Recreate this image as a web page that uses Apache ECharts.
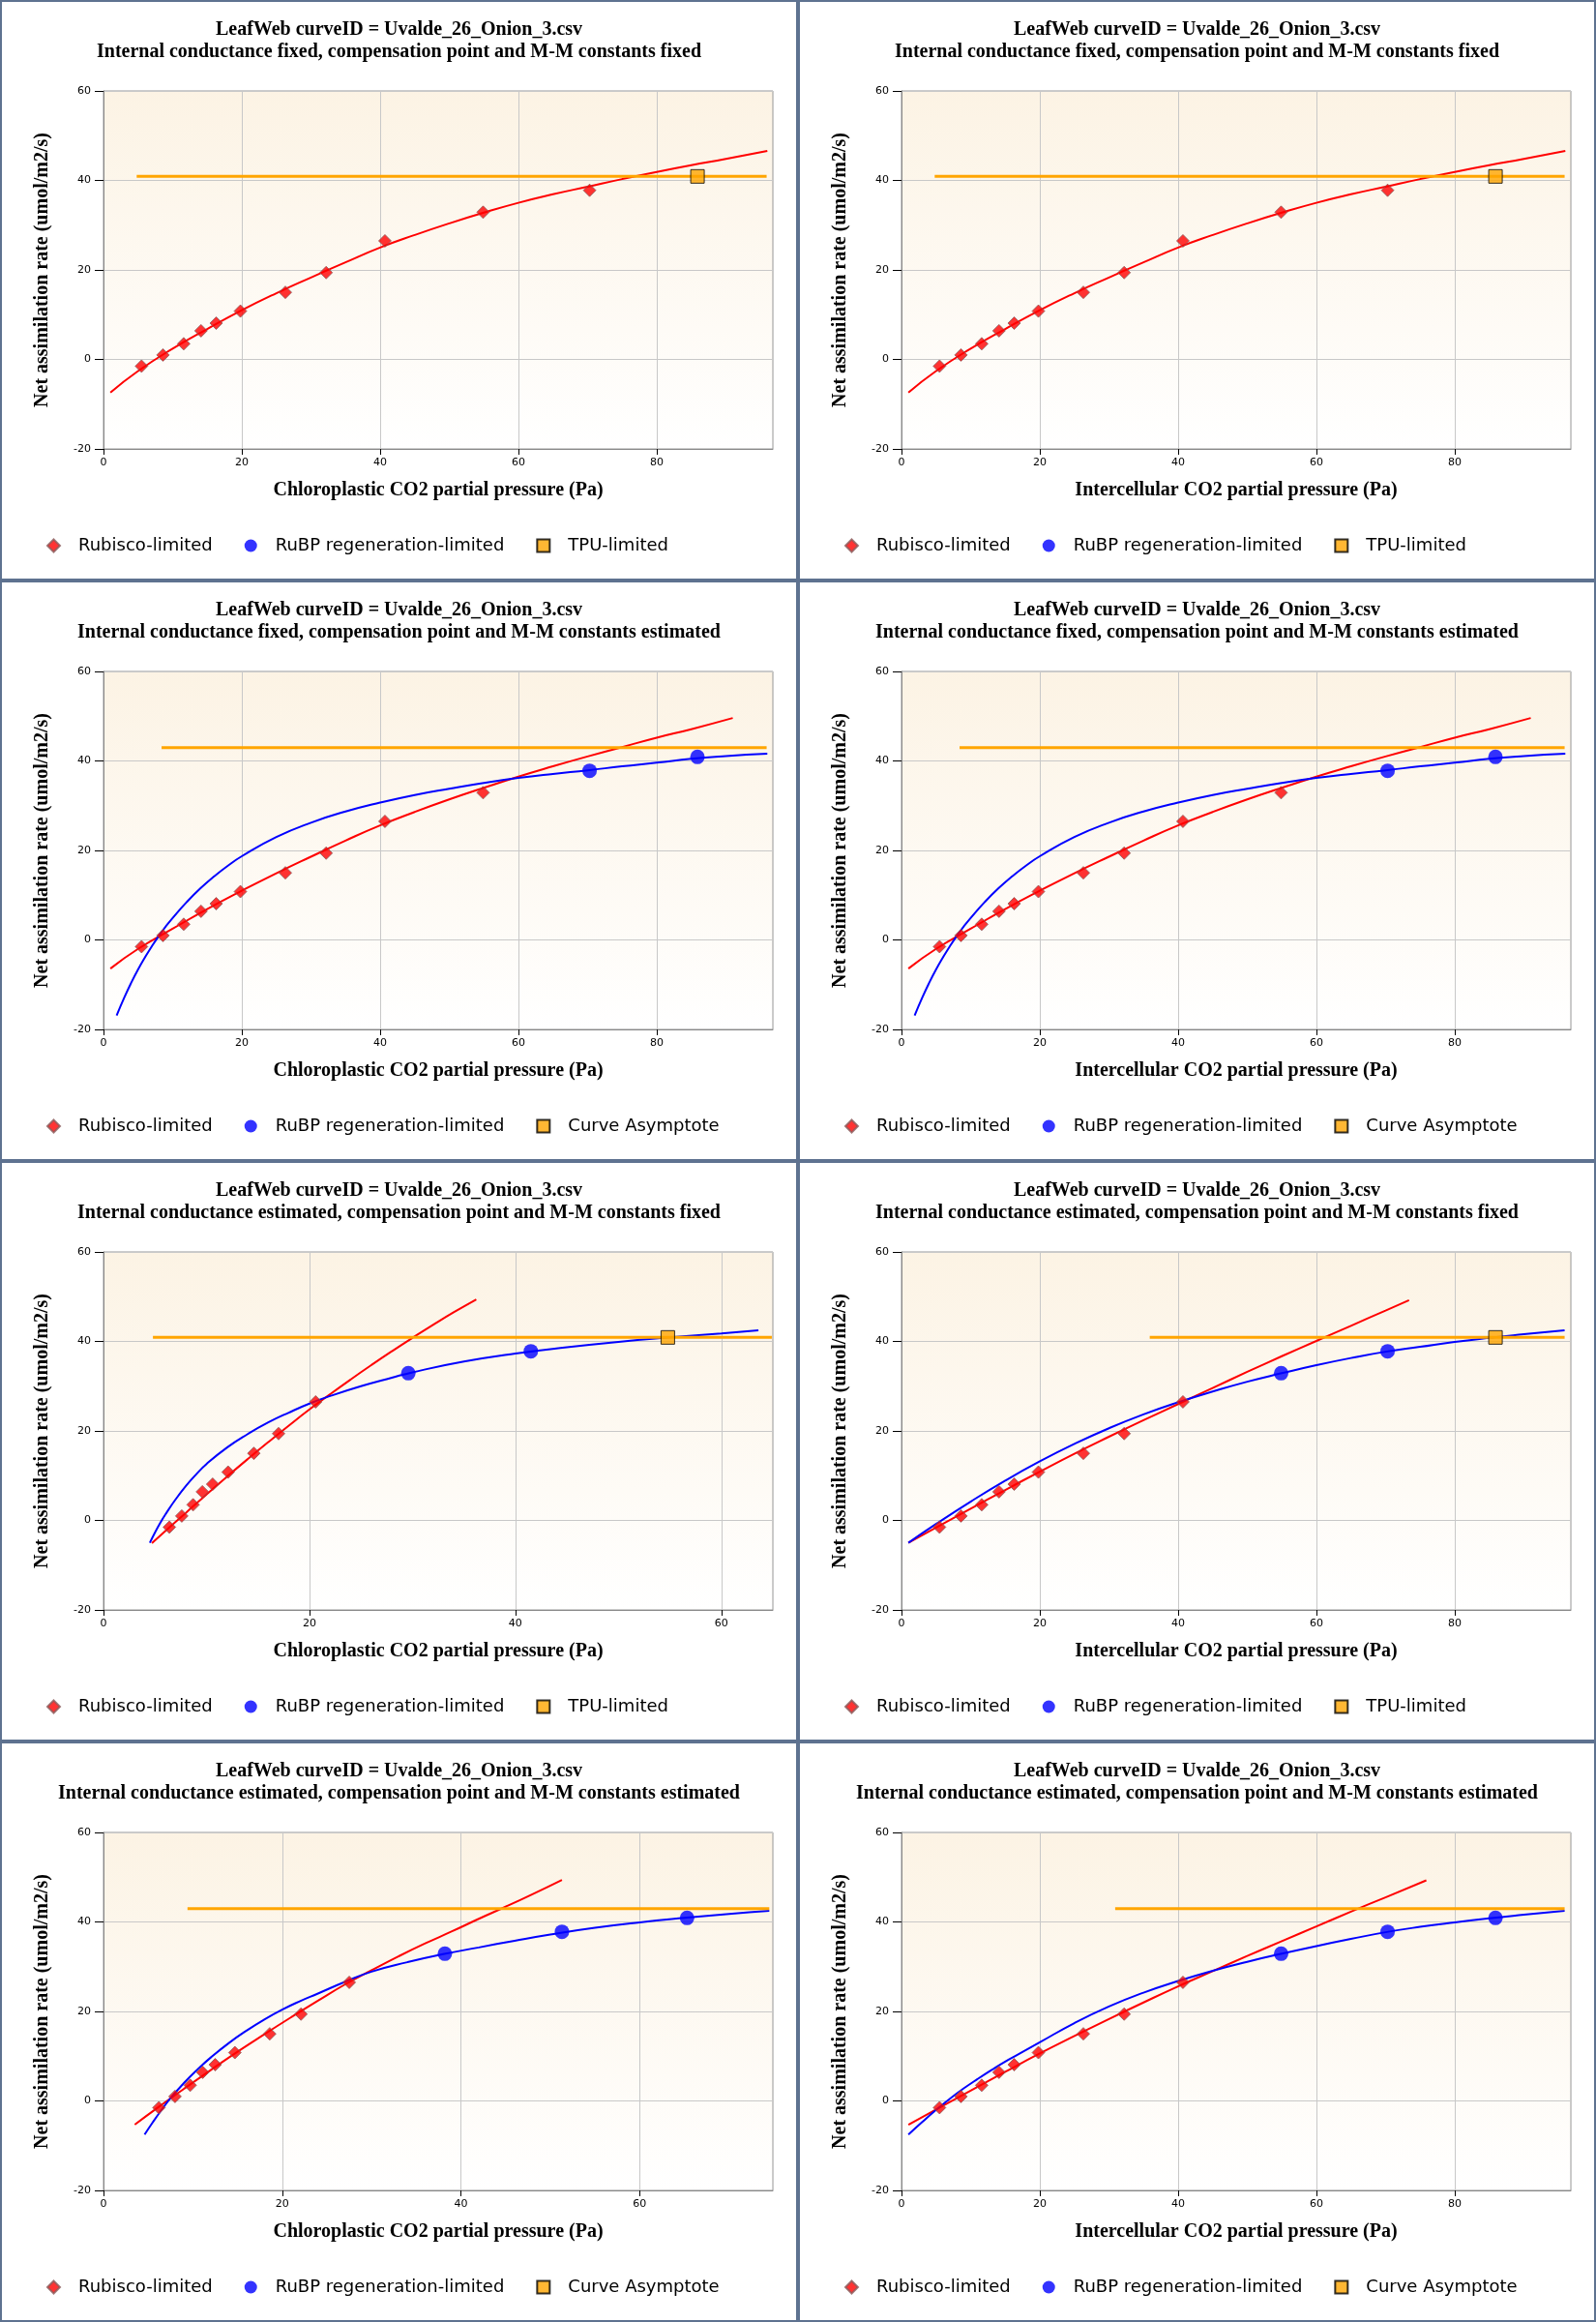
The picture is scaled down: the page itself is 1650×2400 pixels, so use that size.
<!DOCTYPE html>
<html>
<head>
<meta charset="utf-8">
<title>LeafWeb Uvalde_26_Onion_3 fits</title>
<script src="https://cdn.jsdelivr.net/npm/echarts@6/dist/echarts.min.js"></script>
<style>
  html, body { margin: 0; padding: 0; background: #fff; }
  #page { position: relative; width: 1650px; height: 2400px; }
  .panel { position: absolute; width: 825px; height: 600px; }
  .frame { position: absolute; width: 825px; height: 600px; box-sizing: border-box;
           border: 2px solid #5e7290; pointer-events: none; }
</style>
</head>
<body>
<div id="page"></div>
<script>
// OBSERVED POINTS (same net assimilation, x shifts with the internal conductance fit)
const netA = [-1.5, 1.0, 3.5, 6.4, 8.1, 10.8, 15.0, 19.4, 26.5, 32.9, 37.8, 40.9];
const ciObs = [5.5, 8.6, 11.6, 14.1, 16.3, 19.8, 26.3, 32.2, 40.7, 54.9, 70.3, 85.9];
const ccGmFixedKin = [6.4, 7.6, 8.7, 9.6, 10.6, 12.1, 14.6, 17.0, 20.6, 29.6, 41.5, 54.8];
const ccGmEstKin = [6.2, 8.0, 9.7, 11.1, 12.5, 14.7, 18.6, 22.1, 27.5, 38.2, 51.3, 65.3];

// limitation of each point: R = Rubisco, J = RuBP regeneration, T = TPU
const limA = ['R', 'R', 'R', 'R', 'R', 'R', 'R', 'R', 'R', 'R', 'R', 'T'];
const limB = ['R', 'R', 'R', 'R', 'R', 'R', 'R', 'R', 'R', 'R', 'J', 'J'];
const limC = ['R', 'R', 'R', 'R', 'R', 'R', 'R', 'R', 'R', 'J', 'J', 'T'];
const limD = ['R', 'R', 'R', 'R', 'R', 'R', 'R', 'R', 'R', 'J', 'J', 'J'];

// MODEL CURVES
// row 1: gm fixed, kinetics fixed
const rubX1 = [1, 5, 10, 15, 20, 25, 30, 35, 40, 45, 50, 55, 60, 65, 70, 75, 80, 85, 90, 96];
const rubY1 = [-7.4, -2.6, 2.4, 6.8, 11.0, 14.8, 18.3, 21.7, 25.0, 27.8, 30.4, 32.8, 35.0, 36.9, 38.6, 40.3, 41.9, 43.4, 44.8, 46.6];
const capX1 = [4.8, 95.9];
const capY1 = [40.9, 40.9];

// row 2: gm fixed, kinetics estimated
const rubX2 = [1, 5, 10, 15, 20, 25, 30, 35, 40, 45, 50, 55, 60, 65, 70, 75, 80, 85, 91];
const rubY2 = [-6.4, -2.0, 2.5, 6.9, 11.0, 14.9, 18.6, 22.2, 25.6, 28.6, 31.4, 34.0, 36.5, 38.8, 41.0, 43.1, 45.2, 47.1, 49.6];
const rubpX2 = [1.9, 3, 4, 5, 6, 7, 8, 9, 10, 12, 14, 16, 18, 20, 25, 30, 35, 40, 45, 50, 55, 60, 65, 70, 75, 80, 85, 90, 96];
const rubpY2 = [-16.9, -12.9, -9.6, -6.6, -3.9, -1.4, 0.9, 3.0, 4.9, 8.4, 11.5, 14.2, 16.6, 18.7, 23.0, 26.2, 28.7, 30.7, 32.4, 33.8, 35.1, 36.2, 37.1, 37.9, 38.8, 39.6, 40.5, 41.1, 41.6];
const capX2 = [8.4, 95.9];
const capY2 = [43.0, 43.0];

// row 3 left: gm estimated, kinetics fixed (chloroplastic)
const rubX5 = [4.7, 6, 8, 10, 12, 14, 16, 18, 20, 22, 24, 26, 28, 30, 32, 34, 36.2];
const rubY5 = [-5.1, -2.4, 1.7, 5.8, 9.8, 13.7, 17.5, 21.2, 24.8, 28.2, 31.5, 34.7, 37.8, 40.8, 43.7, 46.5, 49.4];
const rubpX5 = [4.5, 5, 5.5, 6, 7, 8, 9, 10, 12, 14, 16, 18, 20, 22, 25, 28, 30, 35, 40, 45, 50, 55, 60, 63.6];
const rubpY5 = [-5.0, -2.7, -0.6, 1.3, 4.7, 7.7, 10.3, 12.6, 16.3, 19.3, 21.9, 24.1, 26.1, 27.8, 30.0, 31.9, 33.1, 35.5, 37.3, 38.7, 39.9, 40.9, 41.8, 42.5];
const capX5 = [4.8, 64.9];
const capY5 = [40.9, 40.9];

// row 3 right: gm estimated, kinetics fixed (intercellular)
const rubX6 = [1, 5, 10, 15, 20, 25, 30, 35, 40, 45, 50, 55, 60, 65, 70, 73.4];
const rubY6 = [-5.0, -1.6, 2.6, 6.8, 10.9, 14.9, 18.7, 22.4, 26.0, 29.6, 33.2, 36.7, 40.1, 43.5, 46.9, 49.2];
const rubpX6 = [1, 5, 10, 15, 20, 25, 30, 35, 40, 45, 50, 55, 60, 65, 70, 75, 80, 85, 90, 95.9];
const rubpY6 = [-5.0, -0.8, 4.2, 8.9, 13.2, 17.1, 20.6, 23.7, 26.4, 28.8, 31.0, 32.9, 34.7, 36.3, 37.7, 38.8, 39.9, 40.8, 41.6, 42.5];
const capX6 = [35.9, 95.9];
const capY6 = [40.9, 40.9];

// row 4 left: gm estimated, kinetics estimated (chloroplastic)
const rubX7 = [3.5, 6, 9, 12, 15, 18, 21, 24, 27, 30, 33, 36, 39, 42, 45, 48, 51.3];
const rubY7 = [-5.3, -1.6, 2.7, 6.9, 11.0, 14.9, 18.7, 22.4, 26.0, 29.2, 32.3, 35.2, 37.9, 40.7, 43.4, 46.2, 49.4];
const rubpX7 = [4.6, 5.5, 6.5, 7.5, 9, 10.5, 12, 14, 16, 18, 20, 22, 24, 27, 30, 34, 38, 42, 46, 50, 55, 60, 65, 70, 74.5];
const rubpY7 = [-7.5, -4.8, -2.0, 0.6, 4.0, 7.0, 9.7, 12.9, 15.7, 18.2, 20.4, 22.3, 24.0, 26.6, 28.9, 31.0, 32.8, 34.3, 35.8, 37.2, 38.7, 39.9, 40.9, 41.8, 42.5];
const capX7 = [9.4, 74.5];
const capY7 = [43.0, 43.0];

// row 4 right: gm estimated, kinetics estimated (intercellular)
const rubX8 = [1, 5, 10, 15, 20, 25, 30, 35, 40, 45, 50, 55, 60, 65, 70, 75.9];
const rubY8 = [-5.3, -1.9, 2.3, 6.5, 10.6, 14.5, 18.3, 22.0, 25.6, 29.0, 32.4, 35.7, 39.0, 42.3, 45.5, 49.3];
const rubpX8 = [1, 3, 5, 7, 9, 11, 13, 15, 17, 20, 25, 30, 35, 40, 45, 50, 55, 60, 65, 70, 75, 80, 85, 90, 95.9];
const rubpY8 = [-7.5, -4.7, -2.0, 0.5, 2.8, 4.9, 6.9, 8.8, 10.5, 13.1, 17.4, 21.1, 24.2, 26.8, 29.1, 31.1, 32.9, 34.6, 36.2, 37.7, 38.9, 39.9, 40.8, 41.6, 42.5];
const capX8 = [30.9, 95.9];
const capY8 = [43.0, 43.0];

// axis ranges
const xMaxWide = 96.8;
const xMax5 = 65.0;
const xMax7 = 74.9;

const curveTitle = 'LeafWeb curveID = Uvalde_26_Onion_3.csv';
const ccName = 'Chloroplastic CO2 partial pressure (Pa)';
const ciName = 'Intercellular CO2 partial pressure (Pa)';
const yName = 'Net assimilation rate (umol/m2/s)';

const panels = [
    { sub: 'Internal conductance fixed, compensation point and M-M constants fixed', xName: ccName, xMax: xMaxWide,
      xObs: ciObs, lim: limA, third: 'TPU-limited', rubX: rubX1, rubY: rubY1, capX: capX1, capY: capY1 },
    { sub: 'Internal conductance fixed, compensation point and M-M constants fixed', xName: ciName, xMax: xMaxWide,
      xObs: ciObs, lim: limA, third: 'TPU-limited', rubX: rubX1, rubY: rubY1, capX: capX1, capY: capY1 },
    { sub: 'Internal conductance fixed, compensation point and M-M constants estimated', xName: ccName, xMax: xMaxWide,
      xObs: ciObs, lim: limB, third: 'Curve Asymptote', rubX: rubX2, rubY: rubY2, rubpX: rubpX2, rubpY: rubpY2, capX: capX2, capY: capY2 },
    { sub: 'Internal conductance fixed, compensation point and M-M constants estimated', xName: ciName, xMax: xMaxWide,
      xObs: ciObs, lim: limB, third: 'Curve Asymptote', rubX: rubX2, rubY: rubY2, rubpX: rubpX2, rubpY: rubpY2, capX: capX2, capY: capY2 },
    { sub: 'Internal conductance estimated, compensation point and M-M constants fixed', xName: ccName, xMax: xMax5,
      xObs: ccGmFixedKin, lim: limC, third: 'TPU-limited', rubX: rubX5, rubY: rubY5, rubpX: rubpX5, rubpY: rubpY5, capX: capX5, capY: capY5 },
    { sub: 'Internal conductance estimated, compensation point and M-M constants fixed', xName: ciName, xMax: xMaxWide,
      xObs: ciObs, lim: limC, third: 'TPU-limited', rubX: rubX6, rubY: rubY6, rubpX: rubpX6, rubpY: rubpY6, capX: capX6, capY: capY6 },
    { sub: 'Internal conductance estimated, compensation point and M-M constants estimated', xName: ccName, xMax: xMax7,
      xObs: ccGmEstKin, lim: limD, third: 'Curve Asymptote', rubX: rubX7, rubY: rubY7, rubpX: rubpX7, rubpY: rubpY7, capX: capX7, capY: capY7 },
    { sub: 'Internal conductance estimated, compensation point and M-M constants estimated', xName: ciName, xMax: xMaxWide,
      xObs: ciObs, lim: limD, third: 'Curve Asymptote', rubX: rubX8, rubY: rubY8, rubpX: rubpX8, rubpY: rubpY8, capX: capX8, capY: capY8 }
];

function zip(xs, ys) {
    return xs.map(function (x, i) { return [x, ys[i]]; });
}

function pick(p, code) {
    const out = [];
    p.lim.forEach(function (l, i) {
        if (l === code) out.push([p.xObs[i], netA[i]]);
    });
    return out;
}

function curve(name, data, color, width) {
    return {
        name: name,
        type: 'line',
        data: data,
        showSymbol: false,
        smooth: 0.5,
        lineStyle: { color: color, width: width },
        z: 2,
        silent: true
    };
}

const axisFont = 'DejaVu Sans';
const titleFont = 'Liberation Serif';
const page = document.getElementById('page');

panels.forEach(function (p, idx) {
    const left = (idx % 2) * 825;
    const top = Math.floor(idx / 2) * 600;

    const el = document.createElement('div');
    el.className = 'panel';
    el.style.left = left + 'px';
    el.style.top = top + 'px';
    page.appendChild(el);

    const frame = document.createElement('div');
    frame.className = 'frame';
    frame.style.left = left + 'px';
    frame.style.top = top + 'px';
    page.appendChild(frame);

    const series = [];
    series.push(curve('Rubisco curve', zip(p.rubX, p.rubY), '#ff0000', 2));
    if (p.rubpX) series.push(curve('RuBP curve', zip(p.rubpX, p.rubpY), '#0000ff', 2));
    series.push(curve('Cap line', zip(p.capX, p.capY), '#ffa500', 3));

    series.push({
        name: 'Rubisco-limited', type: 'scatter', symbol: 'diamond', symbolSize: 13, z: 5,
        itemStyle: { color: '#ff0000', borderColor: '#8a5a5a', borderWidth: 1 },
        data: pick(p, 'R')
    });
    series.push({
        name: 'RuBP regeneration-limited', type: 'scatter', symbol: 'circle', symbolSize: 15, z: 5,
        itemStyle: { color: '#0000ff' },
        data: pick(p, 'J')
    });
    series.push({
        name: p.third, type: 'scatter', symbol: 'rect', symbolSize: 14, z: 5,
        itemStyle: { color: '#ffa500', borderColor: '#000', borderWidth: 1 },
        data: pick(p, 'T')
    });

    const chart = echarts.init(el);
    chart.setOption({
        animation: false,
        title: {
            text: curveTitle + '\n' + p.sub,
            left: 'center',
            top: 14,
            textStyle: { fontFamily: titleFont, fontWeight: 'bold', fontSize: 20, lineHeight: 23, color: '#000' }
        },
        legend: {
            left: 43,
            top: 550,
            itemWidth: 13,
            itemHeight: 13,
            itemGap: 33,
            selectedMode: false,
            textStyle: { fontFamily: axisFont, fontSize: 18, color: '#000', padding: [0, 0, 0, 14] },
            data: [
                { name: 'Rubisco-limited', icon: 'diamond' },
                { name: 'RuBP regeneration-limited', icon: 'circle' },
                { name: p.third, icon: 'rect' }
            ]
        },
        grid: {
            left: 107,
            right: 26,
            top: 94,
            bottom: 136,
            show: true,
            borderColor: '#999',
            borderWidth: 1,
            backgroundColor: {
                type: 'linear', x: 0, y: 0, x2: 0, y2: 1,
                colorStops: [
                    { offset: 0, color: '#fcf3e4' },
                    { offset: 1, color: '#ffffff' }
                ]
            }
        },
        xAxis: {
            type: 'value',
            min: 0,
            max: p.xMax,
            interval: 20,
            name: p.xName,
            nameLocation: 'middle',
            nameGap: 33,
            nameTextStyle: { fontFamily: titleFont, fontWeight: 'bold', fontSize: 20, color: '#000' },
            axisLine: { show: true, onZero: false, lineStyle: { color: '#888' } },
            axisTick: { show: true, length: 6, lineStyle: { color: '#000' } },
            axisLabel: { fontFamily: axisFont, fontSize: 11, color: '#000', margin: 9, showMaxLabel: false },
            splitLine: { show: true, lineStyle: { color: '#c8c8c8' } }
        },
        yAxis: {
            type: 'value',
            min: -20,
            max: 60,
            interval: 20,
            name: yName,
            nameLocation: 'middle',
            nameRotate: 90,
            nameGap: 53,
            nameTextStyle: { fontFamily: titleFont, fontWeight: 'bold', fontSize: 20, color: '#000' },
            axisLine: { show: true, onZero: false, lineStyle: { color: '#888' } },
            axisTick: { show: true, length: 9, lineStyle: { color: '#000' } },
            axisLabel: { fontFamily: axisFont, fontSize: 11, color: '#000', margin: 13 },
            splitLine: { show: true, lineStyle: { color: '#c8c8c8' } }
        },
        series: series
    });
});
</script>
</body>
</html>
